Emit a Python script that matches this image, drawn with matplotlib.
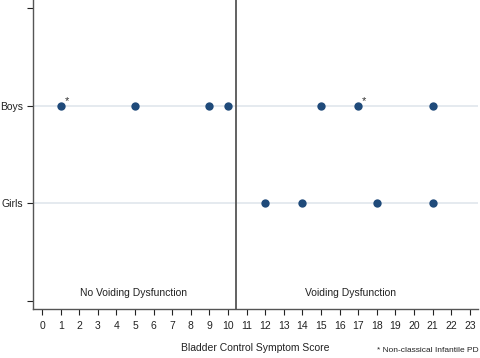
import matplotlib
matplotlib.use("Agg")
import matplotlib.pyplot as plt

plt.rcParams['font.family'] = ['Liberation Sans', 'DejaVu Sans']

groups = ["Girls", "Boys"]
boys_scores = [1, 5, 9, 10, 15, 17, 21]
girls_scores = [12, 14, 18, 21]
boys_starred = [1, 17]
cutoff = 10.4
x_ticks = list(range(0, 24))

fig = plt.figure(figsize=(4.8, 3.58), dpi=100)
ax = fig.add_axes([0.069, 0.137, 0.927, 0.863])

dot = "#1f4a7a"
for yv in (1, 2):
    ax.axhline(yv, color="#e3e8ee", lw=1.3, zorder=1)

ax.scatter(boys_scores, [2] * len(boys_scores), s=36, color=dot, zorder=3, linewidths=0)
ax.scatter(girls_scores, [1] * len(girls_scores), s=36, color=dot, zorder=3, linewidths=0)
for xs in boys_starred:
    ax.text(xs + 0.2, 1.99, "*", fontsize=8, color="#333333", va="bottom", ha="left")

ax.axvline(cutoff, color="#555555", lw=1.3, zorder=2)

ax.text(4.9, 0.08, "No Voiding Dysfunction", ha="center", va="center", fontsize=7.5, color="#222222")
ax.text(16.6, 0.08, "Voiding Dysfunction", ha="center", va="center", fontsize=7.5, color="#222222")

ax.set_xlim(-0.48, 23.44)
ax.set_ylim(-0.08, 3.08)
ax.set_xticks(x_ticks)
ax.set_yticks([0, 1, 2, 3])
ax.set_yticklabels(["", "Girls", "Boys", ""])
ax.tick_params(axis="both", labelsize=7.5, colors="#222222", length=4, width=0.8)
ax.tick_params(axis="x", pad=5)
for side in ("top", "right"):
    ax.spines[side].set_visible(False)
for side in ("left", "bottom"):
    ax.spines[side].set_color("#555555")
    ax.spines[side].set_linewidth(1.0)

ax.set_xlabel("Bladder Control Symptom Score", fontsize=7.5, color="#222222", labelpad=8)
fig.text(0.997, 0.012, "* Non-classical Infantile PD", ha="right", va="bottom", fontsize=6, color="#222222")

fig.savefig("out.png", dpi=100)
